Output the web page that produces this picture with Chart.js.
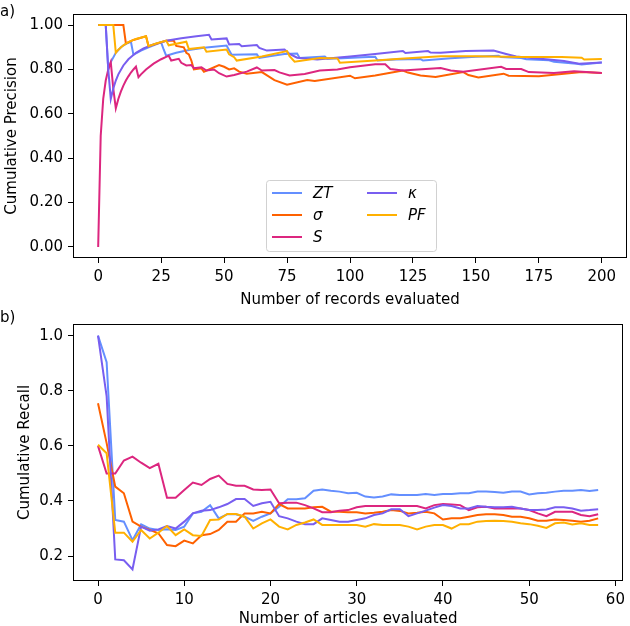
<!DOCTYPE html>
<html><head><meta charset="utf-8">
<script src="https://cdn.jsdelivr.net/npm/chart.js@4.4.1/dist/chart.umd.min.js"></script>
<style>
html,body{margin:0;padding:0;background:#fff;}
#w1{position:absolute;left:0;top:0;width:630px;height:310px;}
#w2{position:absolute;left:0;top:310px;width:630px;height:316px;}
</style></head><body>
<div id="w1"><canvas id="c1"></canvas></div>
<div id="w2"><canvas id="c2"></canvas></div>
<script>
// ---------- series identity ----------
const seriesNames = ['ZT', 'σ', 'S', 'κ', 'PF'];
const seriesColors = ['#648FFF', '#FE6100', '#DC267F', '#785EF0', '#FFB000'];

// ---------- panel a: cumulative precision vs records evaluated ----------
const precTicksX = [0, 25, 50, 75, 100, 125, 150, 175, 200];
const precTicksY = [0, 0.2, 0.4, 0.6, 0.8, 1.0];

const ztX = [0,3,4,5,7,9,11,13,14,17,20,25,26,27,31,36,42,51,52,53,63,64,68,74,79,80,90,91,97,105,110,111,118,128,129,140,150,159,160,168,170,179,181,190,192,200];
const ztY = [1.0,1.0,0.80,0.833,0.875,0.90,0.915,0.925,0.866,0.885,0.90,0.922,0.89,0.862,0.875,0.888,0.898,0.908,0.887,0.866,0.868,0.852,0.86,0.87,0.872,0.852,0.858,0.848,0.85,0.855,0.857,0.84,0.845,0.847,0.84,0.85,0.857,0.862,0.856,0.852,0.846,0.841,0.835,0.826,0.822,0.831];

const sigmaX = [0,10,11,14,19,20,27,30,31,34,35,36,37,38,41,42,48,50,52,54,56,59,65,70,75,83,86,100,102,110,121,123,128,134,145,147,151,161,163,175,192,200];
const sigmaY = [1.0,1.0,0.917,0.933,0.95,0.905,0.929,0.93,0.906,0.90,0.875,0.868,0.84,0.80,0.805,0.79,0.82,0.812,0.80,0.805,0.79,0.781,0.788,0.752,0.731,0.752,0.748,0.772,0.76,0.773,0.795,0.786,0.773,0.766,0.788,0.775,0.764,0.781,0.772,0.769,0.788,0.784];

const sX = [0,1,2,3,4,5,6,7,8,9,10,11,12,13,14,15,16,17,19,22,25,28,29,32,33,35,37,38,41,43,46,48,51,54,59,63,65,70,72,76,82,88,95,100,110,114,116,121,127,136,140,145,160,162,168,171,181,189,200];
const sY = [0,0.5,0.667,0.75,0.8,0.833,0.714,0.625,0.667,0.70,0.727,0.75,0.769,0.786,0.80,0.8125,0.765,0.778,0.80,0.826,0.846,0.862,0.84,0.848,0.83,0.818,0.82,0.806,0.81,0.795,0.80,0.783,0.768,0.775,0.79,0.809,0.795,0.797,0.787,0.773,0.78,0.795,0.80,0.81,0.823,0.823,0.802,0.795,0.80,0.806,0.795,0.79,0.812,0.802,0.802,0.788,0.784,0.792,0.784];

const kappaX = [0,3,4,5,6,7,8,10,12,15,18,22,27,33,39,44,45,51,52,56,57,63,64,67,74,76,79,87,90,100,110,121,122,131,132,136,146,157,162,166,172,179,185,191,200];
const kappaY = [1.0,1.0,0.80,0.667,0.714,0.75,0.778,0.818,0.846,0.875,0.895,0.913,0.929,0.941,0.95,0.956,0.935,0.94,0.913,0.915,0.905,0.91,0.897,0.885,0.89,0.87,0.853,0.845,0.848,0.858,0.87,0.883,0.874,0.883,0.876,0.875,0.883,0.885,0.87,0.858,0.852,0.845,0.838,0.826,0.831];

const pfX = [0,6,7,8,10,12,15,19,20,23,27,28,35,36,42,43,51,52,54,55,65,75,76,78,88,95,96,110,120,136,150,168,184,192,193,200];
const pfY = [1.0,1.0,0.875,0.889,0.909,0.923,0.9375,0.95,0.905,0.917,0.93,0.909,0.925,0.892,0.90,0.88,0.89,0.868,0.855,0.84,0.858,0.883,0.86,0.835,0.852,0.85,0.83,0.84,0.848,0.86,0.86,0.856,0.856,0.853,0.845,0.847];

// ---------- panel b: cumulative recall vs articles evaluated ----------
const recTicksX = [0, 10, 20, 30, 40, 50, 60];
const recTicksY = [0.2, 0.4, 0.6, 0.8, 1.0];
const articles = [0,1,2,3,4,5,6,7,8,9,10,11,12,13,14,15,16,17,18,19,20,21,22,23,24,25,26,27,28,29,30,31,32,33,34,35,36,37,38,39,40,41,42,43,44,45,46,47,48,49,50,51,52,53,54,55,56,57,58];

const recallZT = [1.0,0.904,0.331,0.325,0.258,0.315,0.30,0.295,0.297,0.295,0.307,0.355,0.361,0.385,0.337,0.352,0.352,0.343,0.328,0.343,0.355,0.379,0.406,0.406,0.41,0.437,0.442,0.437,0.434,0.428,0.43,0.416,0.413,0.416,0.424,0.422,0.422,0.422,0.425,0.422,0.425,0.425,0.428,0.428,0.434,0.434,0.433,0.43,0.434,0.434,0.424,0.428,0.43,0.434,0.437,0.437,0.44,0.436,0.44];
const recallSigma = [0.755,0.61,0.452,0.428,0.325,0.307,0.295,0.283,0.24,0.236,0.256,0.246,0.276,0.28,0.295,0.325,0.325,0.355,0.355,0.361,0.355,0.389,0.373,0.373,0.373,0.377,0.379,0.361,0.361,0.359,0.359,0.355,0.357,0.361,0.367,0.364,0.355,0.357,0.361,0.355,0.333,0.337,0.337,0.343,0.349,0.352,0.352,0.349,0.343,0.343,0.337,0.328,0.328,0.333,0.331,0.328,0.325,0.328,0.337];
const recallS = [0.60,0.50,0.50,0.547,0.561,0.539,0.519,0.535,0.412,0.412,0.44,0.467,0.458,0.48,0.492,0.462,0.455,0.455,0.442,0.44,0.442,0.392,0.394,0.394,0.385,0.373,0.359,0.359,0.365,0.367,0.377,0.382,0.382,0.382,0.382,0.382,0.382,0.382,0.373,0.385,0.389,0.387,0.385,0.367,0.377,0.379,0.373,0.373,0.373,0.373,0.367,0.355,0.345,0.361,0.361,0.361,0.349,0.345,0.352];
const recallKappa = [1.0,0.78,0.188,0.185,0.152,0.307,0.292,0.297,0.309,0.30,0.325,0.355,0.365,0.367,0.377,0.389,0.407,0.407,0.382,0.392,0.397,0.345,0.337,0.325,0.316,0.316,0.337,0.331,0.325,0.325,0.331,0.337,0.349,0.355,0.37,0.37,0.345,0.355,0.365,0.376,0.385,0.382,0.373,0.373,0.382,0.379,0.377,0.377,0.379,0.373,0.367,0.367,0.369,0.377,0.377,0.373,0.365,0.367,0.37];
const recallPF = [0.604,0.573,0.285,0.285,0.252,0.295,0.264,0.285,0.309,0.276,0.297,0.276,0.273,0.331,0.333,0.353,0.353,0.343,0.30,0.319,0.333,0.307,0.297,0.313,0.322,0.333,0.313,0.313,0.313,0.313,0.313,0.307,0.316,0.313,0.313,0.313,0.307,0.297,0.307,0.313,0.313,0.30,0.316,0.316,0.325,0.327,0.328,0.327,0.325,0.319,0.316,0.31,0.302,0.319,0.322,0.315,0.319,0.313,0.313];

// ---------- helpers ----------
const FONT = "'DejaVu Sans', 'Liberation Sans', sans-serif";
const FS = 15;
function pts(xs, ys) { return xs.map((x, i) => ({ x: x, y: ys[i] })); }
function makeDatasets(pairs) {
  return pairs.map((p, i) => ({
    label: seriesNames[i],
    data: p,
    borderColor: seriesColors[i],
    backgroundColor: seriesColors[i],
    borderWidth: 2,
    pointRadius: 0,
    pointHoverRadius: 0,
    tension: 0,
    fill: false,
    order: 5 - i
  }));
}

const framePlugin = {
  id: 'frame',
  afterDraw(chart) {
    const { ctx, chartArea: a } = chart;
    ctx.save();
    ctx.strokeStyle = '#000';
    ctx.lineWidth = 1;
    ctx.strokeRect(Math.round(a.left) + 0.5, Math.round(a.top) + 0.5,
                   Math.round(a.right - a.left) - 1, Math.round(a.bottom - a.top) - 1);
    ctx.restore();
  }
};

const panelLabelPlugin = {
  id: 'panelLabel',
  afterDraw(chart, args, opts) {
    const ctx = chart.ctx;
    ctx.save();
    ctx.font = FS + 'px ' + FONT;
    ctx.fillStyle = '#000';
    ctx.textAlign = 'left';
    ctx.textBaseline = 'middle';
    ctx.fillText(opts.text, opts.x, opts.y);
    ctx.restore();
  }
};

const mplLegendPlugin = {
  id: 'mplLegend',
  afterDatasetsDraw(chart, args, opts) {
    if (!opts || !opts.show) return;
    const ctx = chart.ctx;
    ctx.save();
    ctx.beginPath();
    ctx.roundRect(opts.x + 0.5, opts.y + 0.5, opts.w, opts.h, 3);
    ctx.fillStyle = 'rgba(255,255,255,0.8)';
    ctx.fill();
    ctx.strokeStyle = 'rgba(204,204,204,0.9)';
    ctx.lineWidth = 1;
    ctx.stroke();
    ctx.font = 'italic ' + FS + 'px ' + FONT;
    ctx.textBaseline = 'middle';
    ctx.textAlign = 'left';
    const rows = 3;
    seriesNames.forEach((name, i) => {
      const col = Math.floor(i / rows), row = i % rows;
      const hx = opts.colX[col], ty = opts.rowY[row];
      ctx.strokeStyle = seriesColors[i];
      ctx.lineWidth = 2;
      ctx.beginPath();
      ctx.moveTo(hx, ty);
      ctx.lineTo(hx + opts.handle, ty);
      ctx.stroke();
      ctx.fillStyle = '#000';
      ctx.fillText(name, hx + opts.handle + 11, ty + 1);
    });
    ctx.restore();
  }
};

function axisCommon(ticksArr, fmt, pad) {
  return {
    type: 'linear',
    afterBuildTicks: s => { s.ticks = ticksArr.map(v => ({ value: v })); },
    ticks: { color: '#000', font: { family: FONT, size: FS }, padding: pad,
             maxRotation: 0, autoSkip: false, callback: fmt },
    grid: { display: true, drawOnChartArea: false, drawTicks: true, tickLength: 5,
            color: '#000', lineWidth: 1 },
    border: { display: false }
  };
}

function buildChart(canvasId, datasets, cfg) {
  const xAxis = axisCommon(cfg.ticksX, v => String(v), 5);
  xAxis.min = cfg.xMin; xAxis.max = cfg.xMax;
  xAxis.title = { display: true, text: cfg.xTitle, color: '#000',
                  font: { family: FONT, size: FS }, padding: { top: 0, bottom: cfg.xTitlePad } };
  xAxis.afterFit = s => { s.height = cfg.xHeight; };
  const yAxis = axisCommon(cfg.ticksY, v => Number(v).toFixed(cfg.yDec), 5);
  yAxis.min = cfg.yMin; yAxis.max = cfg.yMax;
  yAxis.title = { display: true, text: cfg.yTitle, color: '#000',
                  font: { family: FONT, size: FS }, padding: { top: cfg.yTitlePad, bottom: 0 } };
  yAxis.afterFit = s => { s.width = 73; };
  return new Chart(document.getElementById(canvasId), {
    type: 'line',
    data: { datasets: datasets },
    options: {
      responsive: true, maintainAspectRatio: false, animation: false, devicePixelRatio: 1,
      layout: { padding: { left: 0, right: 3, top: cfg.padTop, bottom: 0 } },
      scales: { x: xAxis, y: yAxis },
      plugins: {
        legend: { display: false }, tooltip: { enabled: false },
        panelLabel: cfg.panel,
        mplLegend: cfg.legend || { show: false }
      }
    },
    plugins: [framePlugin, panelLabelPlugin, mplLegendPlugin]
  });
}

buildChart('c1', makeDatasets([
  pts(ztX, ztY), pts(sigmaX, sigmaY), pts(sX, sY), pts(kappaX, kappaY), pts(pfX, pfY)
]), {
  ticksX: precTicksX, ticksY: precTicksY, xMin: -10, xMax: 210, yMin: -0.05, yMax: 1.05,
  yDec: 2, xTitle: 'Number of records evaluated', yTitle: 'Cumulative Precision',
  xHeight: 52, xTitlePad: 1, yTitlePad: 3, padTop: 1,
  panel: { text: 'a)', x: 0, y: 12 },
  legend: { show: true, x: 266, y: 180, w: 170, h: 71, colX: [272, 367], rowY: [193, 215, 237], handle: 30 }
});

buildChart('c2', makeDatasets([
  pts(articles, recallZT), pts(articles, recallSigma), pts(articles, recallS),
  pts(articles, recallKappa), pts(articles, recallPF)
]), {
  ticksX: recTicksX, ticksY: recTicksY, xMin: -2.9, xMax: 60.9, yMin: 0.1096, yMax: 1.0424,
  yDec: 1, xTitle: 'Number of articles evaluated', yTitle: 'Cumulative Recall',
  xHeight: 45, xTitlePad: -2, yTitlePad: 16, padTop: 14,
  panel: { text: 'b)', x: 0, y: 8 }
});
</script>
</body></html>
